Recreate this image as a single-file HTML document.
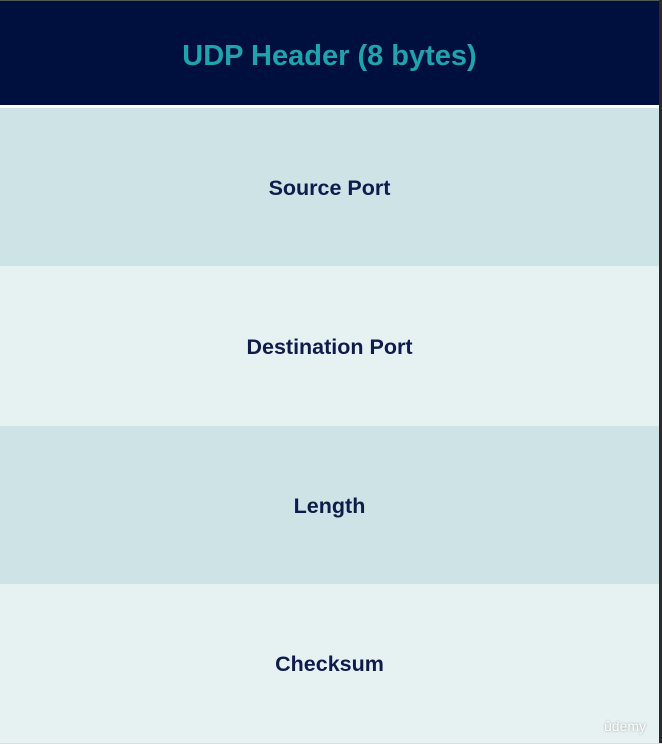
<!DOCTYPE html>
<html><head><style>
html,body{margin:0;padding:0;width:662px;height:744px;overflow:hidden;background:#e6f1f1;font-family:"Liberation Sans",sans-serif}
.d{position:absolute;left:0;width:659px;display:flex;align-items:center;justify-content:center;font-weight:bold;color:#0f1b4a;font-size:21.5px;padding-top:2px;box-sizing:border-box}
</style></head><body>
<div style="position:absolute;left:0;top:0;width:662px;height:1px;background:#555"></div>
<div class="d" style="top:1px;height:104px;background:#00103e;color:#1fa3ad;font-size:29px;padding-top:6px">UDP Header (8 bytes)</div>
<div style="position:absolute;left:0;top:105px;width:659px;height:3px;background:#fff"></div>
<div class="d" style="top:108px;height:158px;background:#cde3e5">Source Port</div>
<div class="d" style="top:266px;height:160px;background:#e6f1f1">Destination Port</div>
<div class="d" style="top:426px;height:158px;background:#cde3e5">Length</div>
<div class="d" style="top:584px;height:159px;background:#e6f1f1">Checksum</div>
<div style="position:absolute;left:604px;top:718px;font-size:14px;color:#fff;text-shadow:0 0 2px #999">ûdemy</div>
<div style="position:absolute;left:659px;top:0;width:3px;height:744px;background:#2a2a2a"></div>
<div style="position:absolute;left:0;top:743px;width:662px;height:1px;background:#ddd"></div>
</body></html>
